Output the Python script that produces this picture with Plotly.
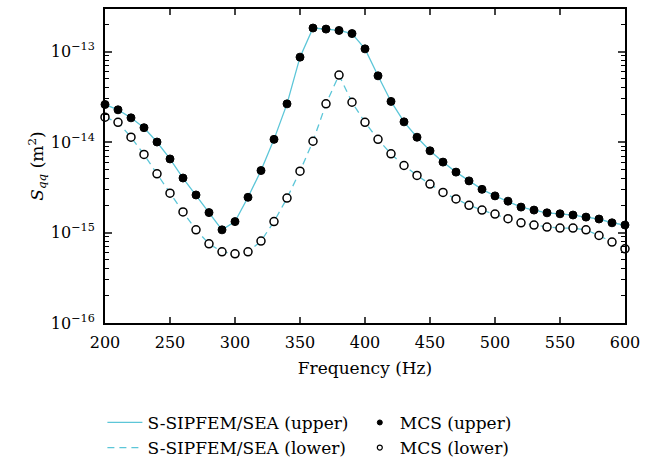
import plotly.graph_objects as go

freq = list(range(200, 610, 10))

upper = [2.6e-14, 2.27e-14, 1.85e-14, 1.44e-14, 1.0e-14, 6.5e-15, 4.0e-15, 2.6e-15,
         1.66e-15, 1.07e-15, 1.32e-15, 2.45e-15, 4.84e-15, 1.07e-14, 2.64e-14, 8.67e-14,
         1.82e-13, 1.77e-13, 1.71e-13, 1.58e-13, 1.07e-13, 5.39e-14, 2.81e-14, 1.67e-14,
         1.13e-14, 8.0e-15, 6.0e-15, 4.65e-15, 3.72e-15, 3.0e-15, 2.54e-15, 2.22e-15,
         1.91e-15, 1.77e-15, 1.65e-15, 1.61e-15, 1.56e-15, 1.48e-15, 1.41e-15, 1.28e-15,
         1.21e-15]

lower = [1.88e-14, 1.65e-14, 1.13e-14, 7.3e-15, 4.45e-15, 2.72e-15, 1.69e-15, 1.07e-15,
         7.5e-16, 6.12e-16, 5.82e-16, 6.12e-16, 8.05e-16, 1.32e-15, 2.4e-15, 4.76e-15,
         1.02e-14, 2.64e-14, 5.5e-14, 2.75e-14, 1.65e-14, 1.07e-14, 7.4e-15, 5.5e-15,
         4.27e-15, 3.43e-15, 2.77e-15, 2.35e-15, 2.0e-15, 1.77e-15, 1.6e-15, 1.42e-15,
         1.28e-15, 1.21e-15, 1.15e-15, 1.12e-15, 1.12e-15, 1.07e-15, 9.27e-16, 7.84e-16,
         6.6e-16]

xticks = [200, 250, 300, 350, 400, 450, 500, 550, 600]
ytick_vals = [1e-16, 1e-15, 1e-14, 1e-13]
ytick_text = ["10<sup>\u221216</sup>", "10<sup>\u221215</sup>", "10<sup>\u221214</sup>", "10<sup>\u221213</sup>"]
yminor_vals = [k * 10.0 ** e for e in range(-16, -12) for k in range(2, 10)]

cyan = "#5CC6D8"
font = "DejaVu Serif"

fig = go.Figure()
fig.add_trace(go.Scatter(x=freq, y=upper, mode="lines", name="S-SIPFEM/SEA (upper)",
                         line=dict(color=cyan, width=1.3), legend="legend", cliponaxis=False))
fig.add_trace(go.Scatter(x=freq, y=lower, mode="lines", name="S-SIPFEM/SEA (lower)",
                         line=dict(color=cyan, width=1.3, dash="7px,5px"), legend="legend",
                         cliponaxis=False))
fig.add_trace(go.Scatter(x=freq, y=upper, mode="markers", name="MCS (upper)", showlegend=False,
                         marker=dict(color="black", size=8, line=dict(color="black", width=1)),
                         cliponaxis=False))
fig.add_trace(go.Scatter(x=freq, y=lower, mode="markers", name="MCS (lower)", showlegend=False,
                         marker=dict(color="white", size=8, line=dict(color="black", width=1.5)),
                         cliponaxis=False))
# legend-only entries with small symbols like the reference
fig.add_trace(go.Scatter(x=[None], y=[None], mode="markers", name="MCS (upper)",
                         marker=dict(color="black", size=5, line=dict(color="black", width=1)),
                         legend="legend2"))
fig.add_trace(go.Scatter(x=[None], y=[None], mode="markers", name="MCS (lower)",
                         marker=dict(color="white", size=5, line=dict(color="black", width=1.2)),
                         legend="legend2"))

fig.update_layout(
    width=663, height=461,
    margin=dict(l=105, r=38, t=9, b=138, autoexpand=False),
    paper_bgcolor="white", plot_bgcolor="white",
    font=dict(family=font, size=16, color="black"),
    showlegend=True,
    legend=dict(x=-0.005, y=-0.358, xanchor="left", yanchor="middle", bgcolor="rgba(0,0,0,0)",
                font=dict(size=17), tracegroupgap=0, itemwidth=35),
    legend2=dict(x=0.49, y=-0.358, xanchor="left", yanchor="middle", bgcolor="rgba(0,0,0,0)",
                 font=dict(size=17), tracegroupgap=0, itemwidth=30),
)

fig.update_xaxes(range=[200, 600], tickvals=xticks, ticks="inside", ticklen=6, tickwidth=1.5,
                 showline=True, linecolor="black", linewidth=2, mirror="ticks",
                 showgrid=False, zeroline=False, ticklabelstandoff=4,
                 title=dict(text="Frequency (Hz)", standoff=11, font=dict(size=17)),
                 tickfont=dict(size=16))
fig.update_yaxes(type="log", range=[-16, -12.53], tickvals=ytick_vals, ticktext=ytick_text,
                 ticks="inside", ticklen=7, tickwidth=1.5,
                 minor=dict(tickmode="array", tickvals=yminor_vals, ticks="inside", ticklen=4,
                            tickwidth=1, tickcolor="black", showgrid=False),
                 showline=True, linecolor="black", linewidth=2, mirror="ticks",
                 showgrid=False, zeroline=False, ticklabelstandoff=5,
                 title=dict(text="<i>S</i><sub><i>qq</i></sub> (m<sup>2</sup>)", standoff=3,
                            font=dict(size=17)),
                 tickfont=dict(size=16))

fig.write_html("out.html")
